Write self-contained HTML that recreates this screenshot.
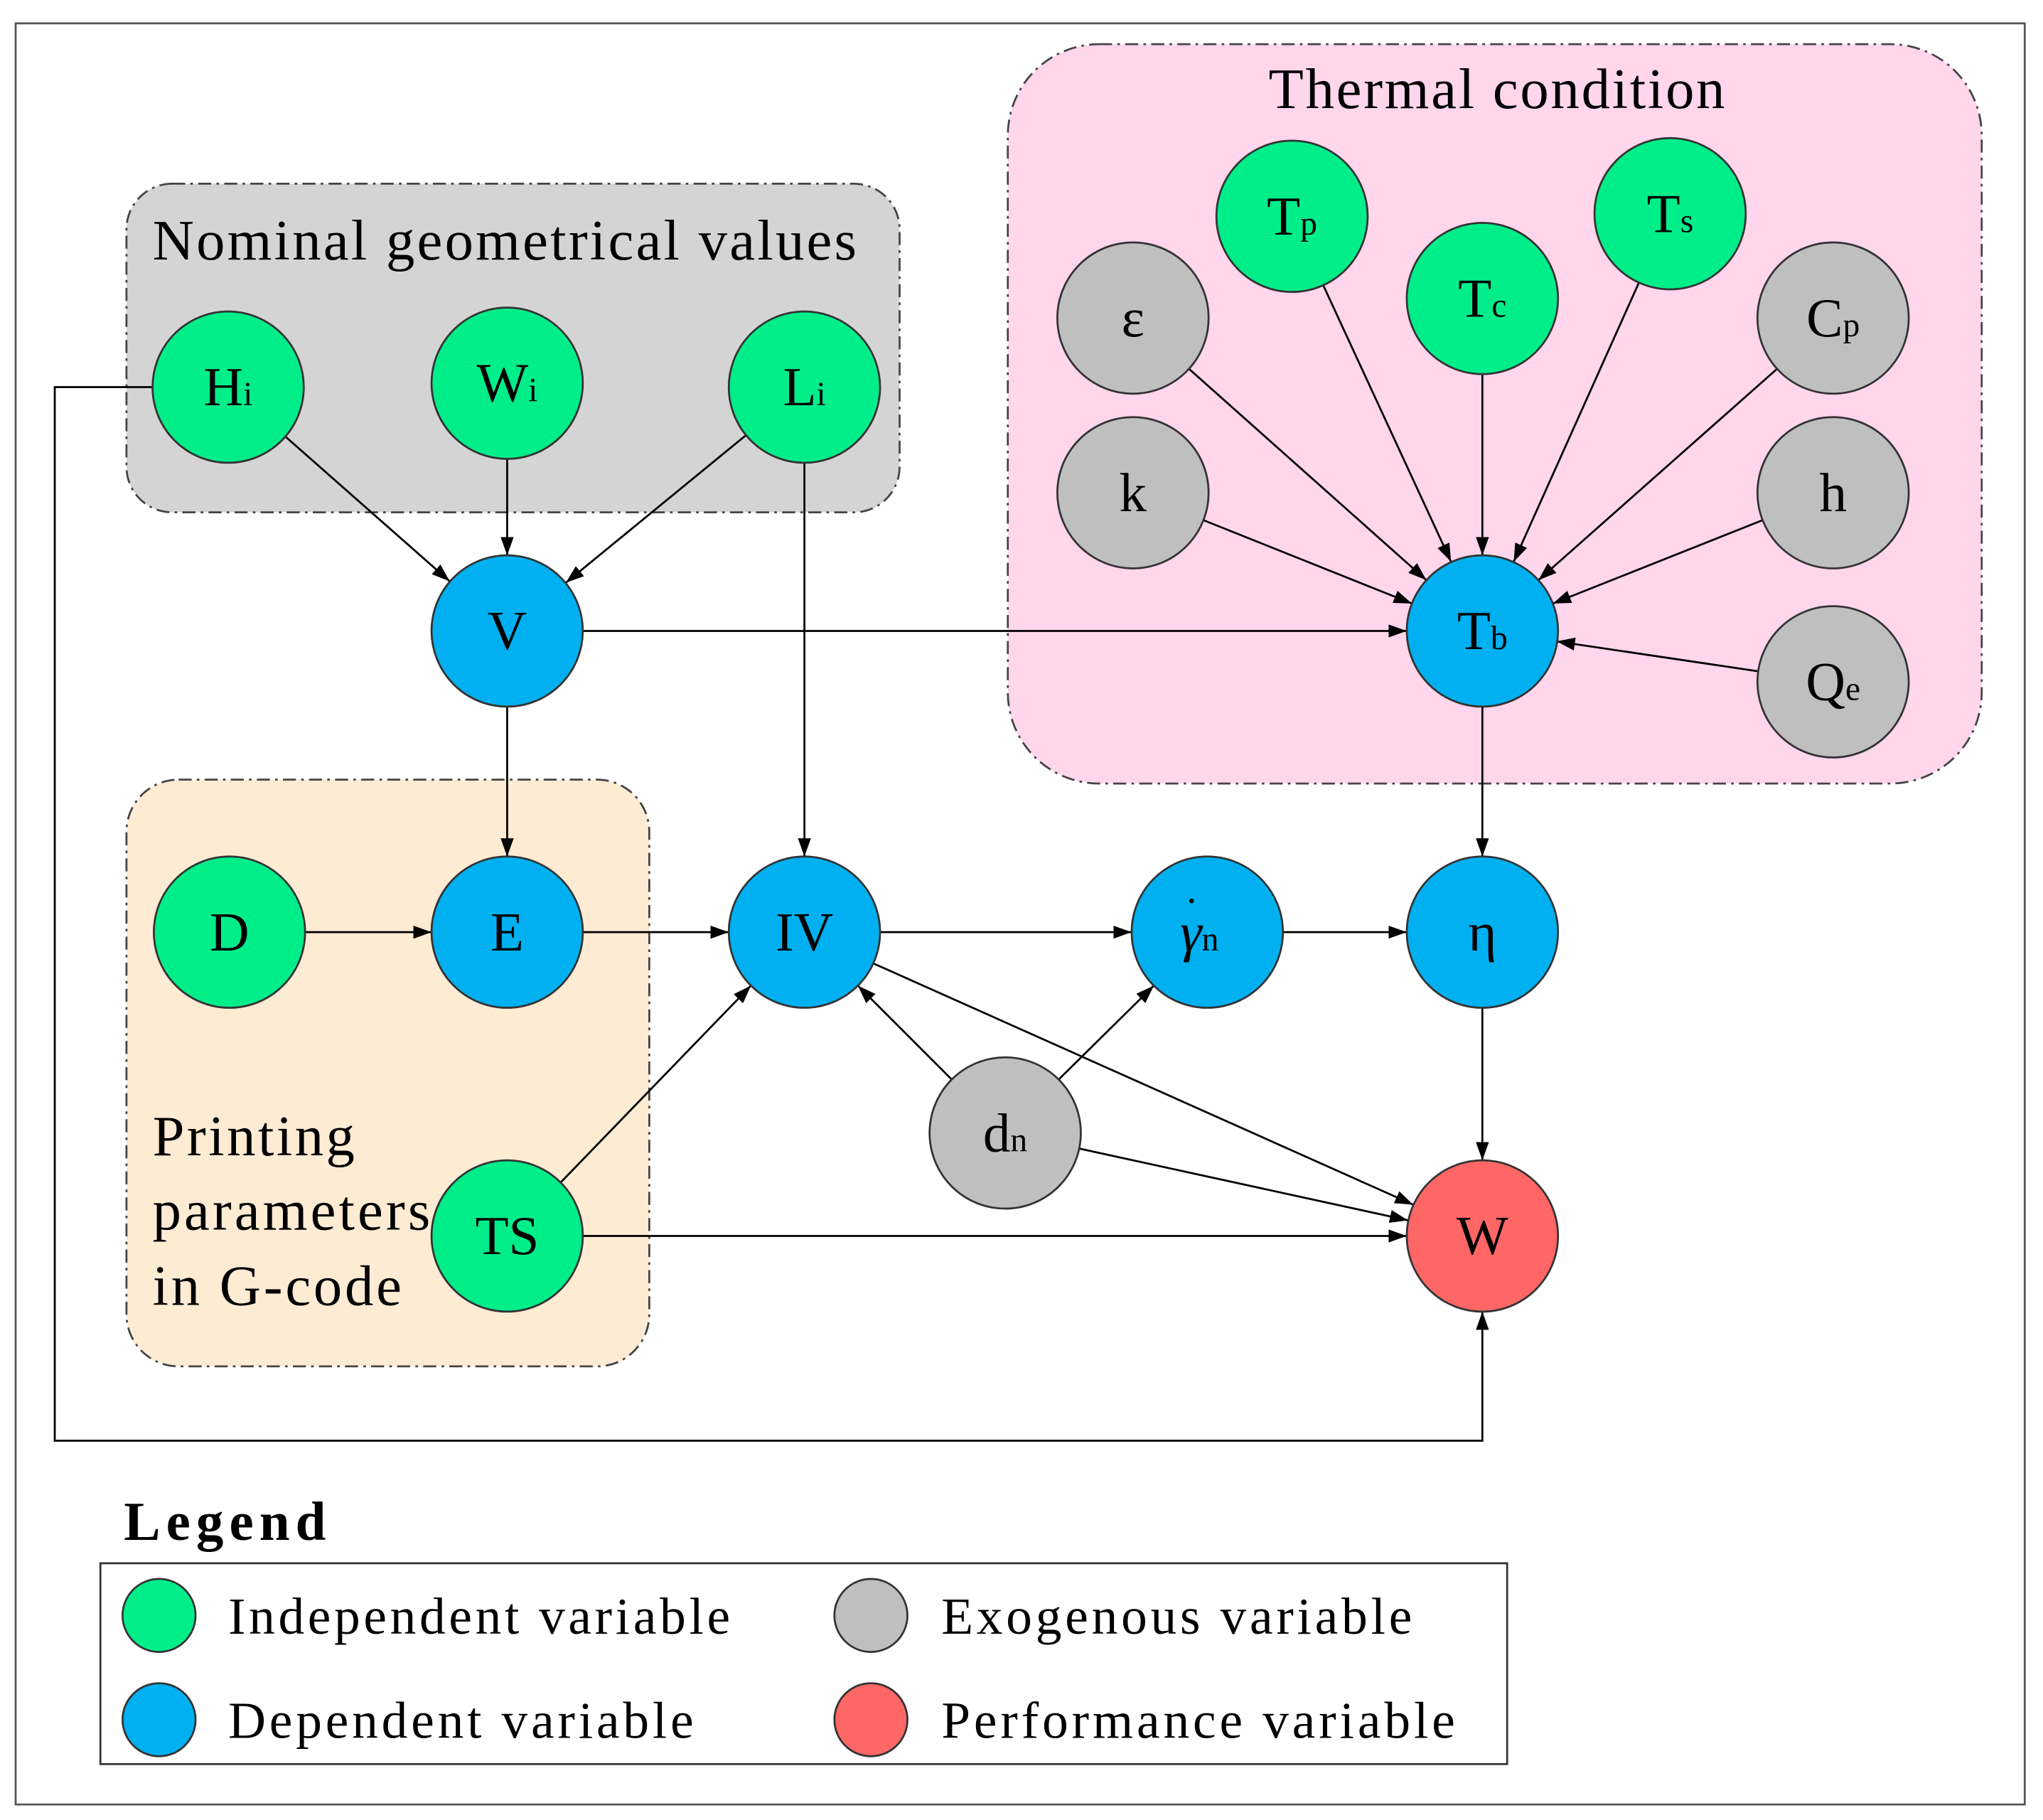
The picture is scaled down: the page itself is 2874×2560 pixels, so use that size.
<!DOCTYPE html>
<html><head><meta charset="utf-8"><style>
html,body{margin:0;padding:0;background:#fff;}
svg{display:block;}
text{font-family:"Liberation Serif",serif;fill:#000;}
</style></head><body>
<svg width="2874" height="2560" viewBox="0 0 1567 1394" xmlns="http://www.w3.org/2000/svg">
<defs>
<marker id="a" viewBox="0 0 14 10" refX="14" refY="5" markerWidth="14" markerHeight="10" markerUnits="userSpaceOnUse" orient="auto">
<path d="M0,0 L14,5 L0,10 z" fill="#000"/></marker>
</defs>
<rect x="0" y="0" width="1567" height="1394" fill="#fff"/>
<rect x="12" y="17" width="1541" height="1366" fill="none" stroke="#555" stroke-width="1.5"/>
<rect x="97" y="140" width="593" height="252" rx="35" fill="#d4d4d4" stroke="#444" stroke-width="1.5" stroke-dasharray="10,4,2,4"/>
<rect x="773" y="33" width="747" height="567" rx="70" fill="#ffd6ec" stroke="#444" stroke-width="1.5" stroke-dasharray="10,4,2,4"/>
<rect x="97" y="597" width="401" height="450" rx="40" fill="#fdebd3" stroke="#444" stroke-width="1.5" stroke-dasharray="10,4,2,4"/>
<text x="117" y="198" font-size="44" textLength="540" lengthAdjust="spacing">Nominal geometrical values</text>
<text x="973" y="82" font-size="44" textLength="350" lengthAdjust="spacing">Thermal condition</text>
<text x="117" y="885" font-size="44" textLength="155" lengthAdjust="spacing">Printing</text>
<text x="117" y="942" font-size="44" textLength="213" lengthAdjust="spacing">parameters</text>
<text x="117" y="1000" font-size="44" textLength="191" lengthAdjust="spacing">in G-code</text>
<polyline points="117,296 42,296 42,1104 1137,1104 1137,1005" fill="none" stroke="#000" stroke-width="1.5" marker-end="url(#a)"/>
<g stroke="#000" stroke-width="1.5" marker-end="url(#a)">
<line x1="219" y1="334" x2="345" y2="445"/>
<line x1="389" y1="351" x2="389" y2="425"/>
<line x1="572" y1="333" x2="434" y2="446"/>
<line x1="617" y1="354" x2="617" y2="656"/>
<line x1="447" y1="483" x2="1079" y2="483"/>
<line x1="389" y1="541" x2="389" y2="656"/>
<line x1="234" y1="714" x2="331" y2="714"/>
<line x1="447" y1="714" x2="559" y2="714"/>
<line x1="675" y1="714" x2="868" y2="714"/>
<line x1="984" y1="714" x2="1079" y2="714"/>
<line x1="1137" y1="541" x2="1137" y2="656"/>
<line x1="1137" y1="772" x2="1137" y2="889"/>
<line x1="670" y1="738" x2="1084" y2="923"/>
<line x1="730" y1="827" x2="658" y2="755"/>
<line x1="812" y1="827" x2="885" y2="755"/>
<line x1="828" y1="880" x2="1080" y2="935"/>
<line x1="430" y1="906" x2="576" y2="755"/>
<line x1="447" y1="947" x2="1079" y2="947"/>
<line x1="1015" y1="218" x2="1113" y2="430"/>
<line x1="1257" y1="216" x2="1161" y2="430"/>
<line x1="1137" y1="286" x2="1137" y2="425"/>
<line x1="912" y1="282" x2="1094" y2="444"/>
<line x1="1363" y1="282" x2="1180" y2="444"/>
<line x1="923" y1="398" x2="1083" y2="462"/>
<line x1="1352" y1="398" x2="1191" y2="462"/>
<line x1="1349" y1="514" x2="1194" y2="491"/>
</g>
<g stroke="#333" stroke-width="1.5">
<circle cx="175" cy="296" r="58" fill="#00ee8a"/>
<circle cx="389" cy="293" r="58" fill="#00ee8a"/>
<circle cx="617" cy="296" r="58" fill="#00ee8a"/>
<circle cx="991" cy="165" r="58" fill="#00ee8a"/>
<circle cx="1281" cy="163" r="58" fill="#00ee8a"/>
<circle cx="1137" cy="228" r="58" fill="#00ee8a"/>
<circle cx="176" cy="714" r="58" fill="#00ee8a"/>
<circle cx="389" cy="947" r="58" fill="#00ee8a"/>
<circle cx="389" cy="483" r="58" fill="#00b0f0"/>
<circle cx="1137" cy="483" r="58" fill="#00b0f0"/>
<circle cx="389" cy="714" r="58" fill="#00b0f0"/>
<circle cx="617" cy="714" r="58" fill="#00b0f0"/>
<circle cx="926" cy="714" r="58" fill="#00b0f0"/>
<circle cx="1137" cy="714" r="58" fill="#00b0f0"/>
<circle cx="869" cy="243" r="58" fill="#bfbfbf"/>
<circle cx="1406" cy="243" r="58" fill="#bfbfbf"/>
<circle cx="869" cy="377" r="58" fill="#bfbfbf"/>
<circle cx="1406" cy="377" r="58" fill="#bfbfbf"/>
<circle cx="1406" cy="522" r="58" fill="#bfbfbf"/>
<circle cx="771" cy="868" r="58" fill="#bfbfbf"/>
<circle cx="1137" cy="947" r="58" fill="#ff6666"/>
</g>
<g font-size="42" text-anchor="middle">
<text x="175" y="310">H<tspan font-size="26">i</tspan></text>
<text x="389" y="307">W<tspan font-size="26">i</tspan></text>
<text x="617" y="310">L<tspan font-size="26">i</tspan></text>
<text x="991" y="179">T<tspan font-size="26">p</tspan></text>
<text x="1281" y="177">T<tspan font-size="26">s</tspan></text>
<text x="1137" y="242">T<tspan font-size="26">c</tspan></text>
<text x="1137" y="497">T<tspan font-size="26">b</tspan></text>
<text x="869" y="257">ε</text>
<text x="1406" y="257">C<tspan font-size="26">p</tspan></text>
<text x="869" y="391">k</text>
<text x="1406" y="391">h</text>
<text x="1406" y="536">Q<tspan font-size="26">e</tspan></text>
<text x="389" y="497">V</text>
<text x="176" y="728">D</text>
<text x="389" y="728">E</text>
<text x="617" y="728">IV</text>
<text x="920" y="728" font-style="italic">γ<tspan font-size="26" font-style="normal">n</tspan></text>
<text x="914" y="700" font-size="30">·</text>
<text x="1137" y="728">η</text>
<text x="771" y="882">d<tspan font-size="26">n</tspan></text>
<text x="389" y="961">TS</text>
<text x="1137" y="961">W</text>
</g>
<text x="95" y="1180" font-size="42" font-weight="bold" textLength="155" lengthAdjust="spacing">Legend</text>
<rect x="77" y="1198" width="1079" height="154" fill="none" stroke="#333" stroke-width="1.5"/>
<g stroke="#333" stroke-width="1.5">
<circle cx="122" cy="1238" r="28" fill="#00ee8a"/>
<circle cx="122" cy="1318" r="28" fill="#00b0f0"/>
<circle cx="668" cy="1238" r="28" fill="#bfbfbf"/>
<circle cx="668" cy="1318" r="28" fill="#ff6666"/>
</g>
<g font-size="40">
<text x="175" y="1252" textLength="385" lengthAdjust="spacing">Independent variable</text>
<text x="175" y="1332" textLength="357" lengthAdjust="spacing">Dependent variable</text>
<text x="722" y="1252" textLength="361" lengthAdjust="spacing">Exogenous variable</text>
<text x="722" y="1332" textLength="394" lengthAdjust="spacing">Performance variable</text>
</g>
</svg>
</body></html>
